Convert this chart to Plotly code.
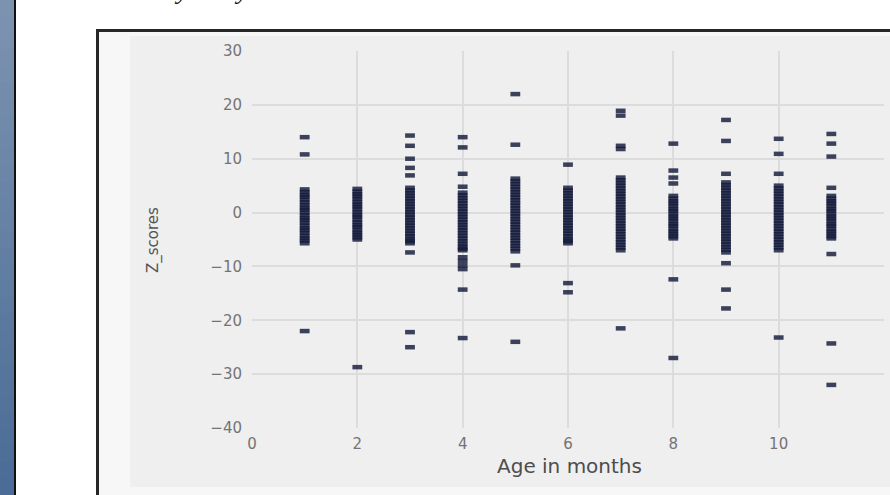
import plotly.graph_objects as go

# ---- data: z-scores observed at each age (months) ----
ages = [1, 2, 3, 4, 5, 6, 7, 8, 9, 10, 11]

z_age_1 = [14.0, 10.8, 4.3, 3.8, 3.3, 2.9, 2.4, 1.9, 1.4, 0.9, 0.5, 0.0, -0.5, -1.0,
           -1.4, -1.9, -2.4, -2.9, -3.3, -3.8, -4.3, -4.8, -5.2, -5.7, -22.0]
z_age_2 = [4.4, 3.9, 3.4, 3.0, 2.5, 2.0, 1.5, 1.1, 0.6, 0.1, -0.4, -0.8, -1.3, -1.8,
           -2.3, -2.7, -3.2, -3.7, -4.1, -4.6, -5.0, -28.7]
z_age_3 = [14.3, 12.4, 10.0, 8.3, 6.9, 4.6, 4.1, 3.6, 3.1, 2.6, 2.1, 1.6, 1.1, 0.6,
           0.1, -0.4, -0.9, -1.4, -1.9, -2.4, -2.9, -3.4, -3.9, -4.4, -4.9, -5.3,
           -5.7, -7.4, -22.2, -25.0]
z_age_4 = [14.0, 12.1, 7.2, 4.8, 3.7, 3.2, 2.7, 2.2, 1.7, 1.2, 0.7, 0.2, -0.3, -0.8,
           -1.3, -1.8, -2.3, -2.8, -3.3, -3.8, -4.3, -4.8, -5.3, -5.8, -6.3, -6.7,
           -7.0, -8.3, -9.0, -9.8, -10.5, -14.3, -23.3]
z_age_5 = [22.0, 12.6, 6.3, 5.8, 5.3, 4.8, 4.3, 3.8, 3.3, 2.8, 2.3, 1.8, 1.3, 0.8,
           0.3, -0.2, -0.7, -1.2, -1.7, -2.2, -2.7, -3.2, -3.7, -4.2, -4.7, -5.2,
           -5.7, -6.2, -6.7, -7.2, -9.8, -24.0]
z_age_6 = [8.9, 4.6, 4.1, 3.6, 3.1, 2.6, 2.1, 1.6, 1.1, 0.6, 0.1, -0.4, -0.9, -1.4,
           -1.9, -2.4, -2.9, -3.4, -3.9, -4.4, -4.9, -5.3, -5.7, -13.1, -14.8]
z_age_7 = [18.9, 18.0, 12.4, 11.8, 6.5, 6.0, 5.5, 5.0, 4.5, 4.0, 3.5, 3.0, 2.5, 2.0,
           1.5, 1.0, 0.5, 0.0, -0.5, -1.0, -1.5, -2.0, -2.5, -3.0, -3.5, -4.0,
           -4.5, -5.0, -5.5, -6.0, -6.5, -7.0, -21.5]
z_age_8 = [12.8, 7.8, 6.5, 5.4, 3.1, 2.6, 2.1, 1.7, 1.2, 0.7, 0.3, -0.2, -0.7, -1.1,
           -1.6, -2.1, -2.5, -3.0, -3.5, -3.9, -4.4, -4.8, -12.4, -27.0]
z_age_9 = [17.2, 13.3, 7.2, 5.6, 5.1, 4.6, 4.1, 3.6, 3.1, 2.6, 2.1, 1.6, 1.1, 0.6,
           0.1, -0.4, -0.9, -1.4, -1.9, -2.4, -2.9, -3.4, -3.9, -4.4, -4.9, -5.4,
           -5.9, -6.4, -6.9, -7.4, -9.4, -14.3, -17.8]
z_age_10 = [13.7, 10.9, 7.2, 5.0, 4.5, 4.0, 3.5, 3.0, 2.5, 2.0, 1.5, 1.0, 0.5, 0.0,
            -0.5, -1.0, -1.5, -2.0, -2.5, -3.0, -3.5, -4.0, -4.5, -5.0, -5.5, -6.0,
            -6.5, -7.0, -23.2]
z_age_11 = [14.6, 12.8, 10.4, 4.6, 3.1, 2.6, 2.1, 1.7, 1.2, 0.7, 0.3, -0.2, -0.7,
            -1.1, -1.6, -2.1, -2.5, -3.0, -3.5, -3.9, -4.4, -4.8, -7.7, -24.3, -32.0]

x_tick_vals = [0, 2, 4, 6, 8, 10, 12]
y_tick_vals = [-40, -30, -20, -10, 0, 10, 20, 30]
x_grid_vals = [2, 4, 6, 8, 10]
y_grid_vals = [-30, -20, -10, 0, 10, 20]

z_by_age = [z_age_1, z_age_2, z_age_3, z_age_4, z_age_5, z_age_6,
            z_age_7, z_age_8, z_age_9, z_age_10, z_age_11]
xs = [a for a, zs in zip(ages, z_by_age) for _ in zs]
ys = [z for zs in z_by_age for z in zs]

# ---- canvas geometry (pixels) ----
W, H = 890, 495
ML, MR, MT, MB = 252, 6, 51, 67
PW, PH = W - ML - MR, H - MT - MB


def fx(px):
    return (px - ML) / PW


def fy(py):
    return 1 - (py - MT) / PH


FONT = "DejaVu Sans"

fig = go.Figure()
fig.add_trace(go.Scatter(
    x=xs, y=ys, mode="markers",
    marker=dict(symbol="line-ew", size=7,
                line=dict(width=4.5, color="rgba(20,26,58,0.82)")),
    hoverinfo="x+y", showlegend=False,
))

shapes = []
# page side bar with a vertical blue gradient
top_rgb, bot_rgb = (124, 147, 176), (74, 108, 150)
bands = 30
for i in range(bands):
    t = i / (bands - 1)
    c = tuple(round(a + (b - a) * t) for a, b in zip(top_rgb, bot_rgb))
    shapes.append(dict(type="rect", xref="paper", yref="paper", layer="below",
                       x0=fx(0), x1=fx(14), y0=fy(H * i / bands), y1=fy(H * (i + 1) / bands + 1),
                       fillcolor="rgb(%d,%d,%d)" % c, line=dict(width=0)))
shapes.append(dict(type="rect", xref="paper", yref="paper", layer="below",
                   x0=fx(14), x1=fx(16), y0=fy(-2), y1=fy(H + 2),
                   fillcolor="#111111", line=dict(width=0)))
# framed figure panel
shapes.append(dict(type="rect", xref="paper", yref="paper", layer="below",
                   x0=fx(97.5), x1=fx(905), y0=fy(30.5), y1=fy(510),
                   fillcolor="#f7f7f7", line=dict(width=3, color="#262626")))
shapes.append(dict(type="rect", xref="paper", yref="paper", layer="below",
                   x0=fx(130), x1=fx(895), y0=fy(36), y1=fy(487),
                   fillcolor="#efefef", line=dict(width=0)))

annotations = [
    dict(text="Age in months", x=fx(569), y=fy(466), xref="paper", yref="paper",
         xanchor="center", yanchor="middle",
         showarrow=False, font=dict(family=FONT, size=20, color="#4d4d4d")),
    dict(text="Z_scores", x=fx(153), y=fy(240), xref="paper", yref="paper",
         xanchor="center", yanchor="middle",
         textangle=-90, showarrow=False, font=dict(family=FONT, size=15, color="#555555")),
    # descenders of the page text line above the figure
    dict(text="y", x=fx(181), y=fy(7), xref="paper", yref="paper",
         xanchor="center", yanchor="bottom",
         showarrow=False, font=dict(family="Liberation Serif", size=26, color="#111111", style="italic")),
    dict(text="y", x=fx(241), y=fy(7), xref="paper", yref="paper",
         xanchor="center", yanchor="bottom",
         showarrow=False, font=dict(family="Liberation Serif", size=26, color="#111111", style="italic")),
]

axis_common = dict(
    showline=False, zeroline=False, showgrid=False,
    ticks="outside", tickcolor="rgba(0,0,0,0)",
    tickfont=dict(family=FONT, size=15, color="#747474"),
)

fig.update_layout(
    width=W, height=H,
    margin=dict(l=ML, r=MR, t=MT, b=MB),
    paper_bgcolor="white", plot_bgcolor="rgba(0,0,0,0)",
    shapes=shapes, annotations=annotations,
    xaxis=dict(range=[0, 12], tickvals=x_tick_vals, ticklen=2, **axis_common,
               minor=dict(tickvals=x_grid_vals, showgrid=True, gridcolor="#dcdcdc", gridwidth=1.5)),
    yaxis=dict(range=[-40, 30], tickvals=y_tick_vals, ticklen=6, **axis_common,
               minor=dict(tickvals=y_grid_vals, showgrid=True, gridcolor="#dcdcdc", gridwidth=1.5)),
)

fig.write_html("out.html")
